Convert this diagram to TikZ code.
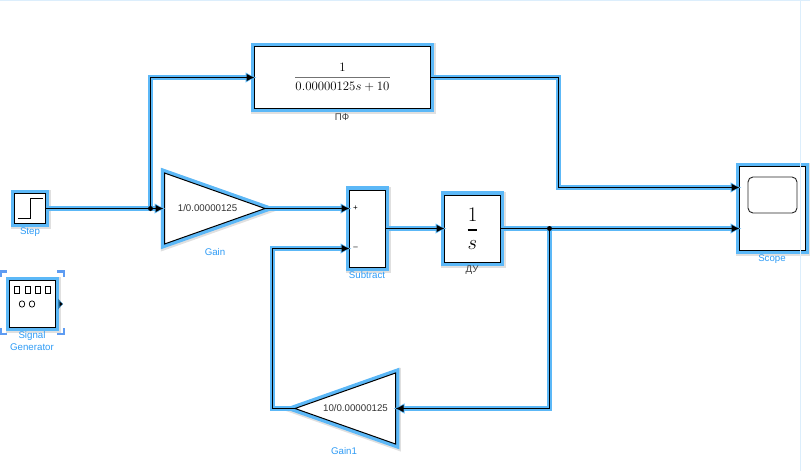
\documentclass[tikz,border=0pt]{standalone}
\usepackage{amsmath,amssymb}
\usepackage{fontspec}
\setmainfont{Liberation Sans}
\usepackage{xcolor}
\usepackage{tikz}
\usetikzlibrary{arrows.meta,positioning,calc,shapes.geometric}
\definecolor{selblue}{HTML}{5CB8F7}
\definecolor{lblblue}{HTML}{2E9BF5}
\definecolor{cornerblue}{HTML}{5E9CF2}
\definecolor{edgeblue}{HTML}{DCEEFC}
\definecolor{portblue}{HTML}{2F7FB5}

\begin{document}
\begin{tikzpicture}[
  x=1pt, y=-1pt,
  font=\fontsize{9.7}{11.6}\selectfont,
  block/.style={draw=black, fill=white, line width=1pt, inner sep=0pt, outer sep=0pt, align=center,
    preaction={draw=black, draw opacity=0.12, line width=9pt, transform canvas={xshift=0.8pt, yshift=-1.2pt}},
    preaction={draw=selblue, line width=7.5pt}},
  tri/.style={block, isosceles triangle, isosceles triangle stretches, minimum width=71pt, minimum height=100.5pt, text=black!80},
  wire/.style={line width=1pt, draw=black, -{Latex[length=8pt,width=7.5pt]},
    preaction={draw=selblue, line width=5pt, shorten >=-2pt, -{Latex[length=11pt,width=11pt]}}},
  dot/.style={circle, fill=black, inner sep=0pt, minimum size=5pt},
  lbl/.style={text=lblblue, align=center, inner sep=0pt},
  lblk/.style={text=black!75, inner sep=0pt},
  corner/.style={draw=cornerblue, line width=2.5pt},
  sign/.style={inner sep=0pt, font=\fontsize{8}{8}\selectfont}
]
\useasboundingbox (0,0) rectangle (810,471);
\draw[edgeblue, line width=1pt] (0,0.5) -- (810,0.5);

% blocks
\node[block, minimum width=31pt, minimum height=30pt] (step) at (30,208.5) {};
\node[block, minimum width=46pt, minimum height=47pt] (siggen) at (32.5,304) {};
\node[tri, anchor=lower side] (gain) at (164.5,208.5) {\hspace*{7.5pt}1/0.00000125};
\node[block, minimum width=176pt, minimum height=62pt] (pf) at (342.5,77.5)
  {\scalebox{1.07}{\fontsize{13}{16}\selectfont$\color{black!55}\genfrac{}{}{1.3pt}{0}{\color{black}1}{\color{black}0.00000125s+10}$}};
\node[block, minimum width=36pt, minimum height=77pt] (sub) at (367.5,228.5) {};
\node[block, minimum width=56pt, minimum height=67pt] (du) at (472.5,228.5)
  {\fontsize{22}{24}\selectfont$\genfrac{}{}{1.3pt}{0}{1}{s}$};
\node[block, minimum width=66pt, minimum height=84pt] (scope) at (772.5,208.5) {};
\node[tri, shape border rotate=180, anchor=lower side] (gain1) at (395.5,408.5) {\hspace*{-5pt}10/0.00000125};

% labels
\node[lbl] (stepl) at (30,232) {Step};
\node[lbl] (gainl) at (215,252.5) {Gain};
\node[lbl] (sigl) at (32,341) {Signal\\Generator};
\node[lbl] (subl) at (367,275) {Subtract};
\node[lblk] (dul) at (472,270) {ДУ};
\node[lbl] (scopel) at (772,259) {Scope};
\node[lblk] (pfl) at (342,117) {ПФ};
\node[lbl] (gain1l) at (344,451) {Gain1};

% block icons
\draw[line width=0.8pt] (18,218) -- (30.5,218) -- (30.5,198) -- (43,198);
\foreach \i in {17,27.5,38,48} \draw[line width=0.8pt] (\i-2.5,286.5) rectangle (\i+2.5,293);
\foreach \i in {22,32} \draw[line width=0.7pt] (\i,304) ellipse (2.8pt and 3.2pt);
\draw[line width=0.9pt, rounded corners=5pt, draw=black!85] (748,177) rectangle (797,213);
\node[sign] (plus) at (355.5,208) {+};
\node[sign] (minus) at (355.5,248) {--};

% wires
\node[dot] (j1) at (150.5,208.5) {};
\node[dot] (j2) at (549.5,228.5) {};
\coordinate (c1) at (558.5,187.5);
\coordinate (c2) at (272.5,248.5);
\draw[wire] (step.east) -- ([xshift=-1pt]gain.lower side);
\draw[wire] (j1.center) |- (pf.west);
\draw[wire] (gain.apex) -- (sub.west |- gain.apex);
\draw[wire] (sub.east) -- (du.west);
\draw[wire] (pf.east) -| (c1) -- (scope.west |- c1);
\draw[wire] (du.east) -- (scope.west |- du.east);
\draw[wire] (j2.center) |- (gain1.lower side);
\draw[wire] (gain1.apex) -| (c2) -- (sub.west |- c2);
\node[dot] at (j1) {};
\node[dot] at (j2) {};

% selection corners round the signal generator
\draw[corner] (1.2,277) -- (1.2,271.5) -- (7,271.5);
\draw[corner] (57,271.5) -- (63.8,271.5) -- (63.8,277);
\draw[corner] (1.2,328) -- (1.2,334) -- (7,334);
\draw[corner] (57,334) -- (63.8,334) -- (63.8,328);
\fill[portblue] (58,298.5) -- (63,304) -- (58,309.5) -- cycle;
\fill[black] (59.5,301.5) -- (62.5,304) -- (59.5,306.5) -- cycle;

\draw[edgeblue, line width=1pt] (800,0) -- (800,471);
\end{tikzpicture}
\end{document}
